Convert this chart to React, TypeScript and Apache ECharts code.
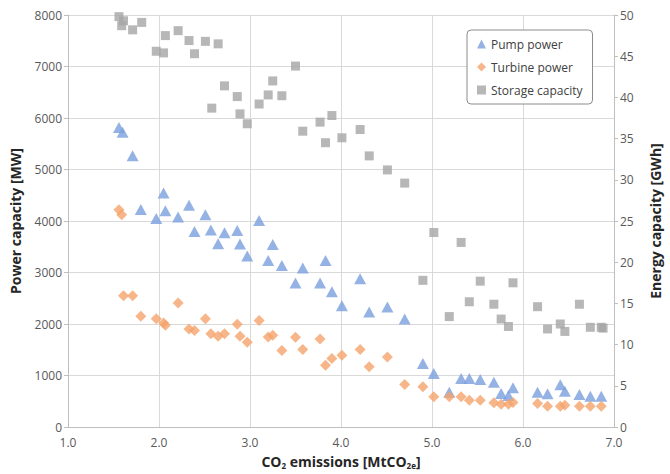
import React, { useEffect, useRef } from "react";
import * as echarts from "echarts";

const pumpX = [1.56, 1.6, 1.71, 1.8, 1.97, 2.05, 2.07, 2.21, 2.33, 2.39, 2.51, 2.57, 2.65, 2.72, 2.86, 2.89, 2.97, 3.1, 3.2, 3.25, 3.35, 3.5, 3.58, 3.77, 3.83, 3.9, 4.01, 4.21, 4.31, 4.51, 4.7, 4.9, 5.02, 5.19, 5.32, 5.41, 5.53, 5.68, 5.76, 5.84, 5.89, 6.16, 6.27, 6.41, 6.46, 6.62, 6.74, 6.86];
const pumpY = [5815, 5725, 5266, 4225, 4050, 4542, 4200, 4080, 4305, 3798, 4121, 3824, 3559, 3772, 3817, 3553, 3320, 4010, 3235, 3545, 3138, 2797, 3087, 2797, 3235, 2628, 2356, 2880, 2234, 2331, 2098, 1231, 1038, 675, 941, 941, 921, 869, 650, 611, 760, 675, 644, 818, 694, 630, 597, 597];

const turbineX = [1.56, 1.59, 1.61, 1.71, 1.8, 1.97, 2.05, 2.07, 2.21, 2.33, 2.39, 2.51, 2.57, 2.65, 2.72, 2.86, 2.89, 2.97, 3.1, 3.2, 3.25, 3.35, 3.5, 3.58, 3.77, 3.83, 3.9, 4.01, 4.21, 4.31, 4.51, 4.7, 4.9, 5.02, 5.19, 5.32, 5.41, 5.53, 5.68, 5.76, 5.84, 5.89, 6.16, 6.27, 6.41, 6.46, 6.62, 6.74, 6.86];
const turbineY = [4218, 4121, 2550, 2550, 2149, 2104, 2021, 1974, 2409, 1904, 1872, 2104, 1813, 1761, 1813, 1994, 1761, 1645, 2066, 1749, 1780, 1484, 1742, 1503, 1711, 1199, 1329, 1393, 1503, 1168, 1361, 824, 780, 586, 586, 586, 520, 520, 469, 442, 442, 475, 456, 404, 404, 423, 404, 404, 404];

const storageX = [1.56, 1.59, 1.61, 1.71, 1.81, 1.97, 2.05, 2.07, 2.21, 2.33, 2.39, 2.51, 2.65, 2.58, 2.72, 2.86, 2.89, 2.97, 3.1, 3.2, 3.25, 3.35, 3.5, 3.58, 3.77, 3.83, 3.9, 4.01, 4.21, 4.31, 4.51, 4.7, 5.02, 5.32, 4.9, 5.53, 5.41, 5.19, 5.68, 5.76, 5.84, 5.89, 6.16, 6.27, 6.41, 6.46, 6.62, 6.74, 6.86, 6.88];
const storageY = [49.8, 48.7, 49.3, 48.2, 49.1, 45.6, 45.4, 47.5, 48.1, 46.9, 45.3, 46.8, 46.5, 38.7, 41.4, 40.1, 38.0, 36.8, 39.2, 40.3, 42.0, 40.2, 43.8, 35.9, 37.0, 34.5, 37.8, 35.1, 36.1, 32.9, 31.2, 29.6, 23.6, 22.4, 17.8, 17.7, 15.2, 13.4, 14.9, 13.1, 12.2, 17.5, 14.6, 11.9, 12.5, 11.6, 14.9, 12.1, 12.1, 12.0];

const xTicks = ["1.0", "2.0", "3.0", "4.0", "5.0", "6.0", "7.0"];

const zip = (xs: number[], ys: number[]) => xs.map((x, i) => [x, ys[i]]);

const FONT = "'Open Sans', 'Noto Sans', sans-serif";
const TXT = "#595959";

export default function App() {
  const ref = useRef<HTMLDivElement>(null);
  useEffect(() => {
    const chart = echarts.init(ref.current!, null, { renderer: "svg" });
    chart.setOption({
      animation: false,
      textStyle: { fontFamily: FONT },
      grid: { left: 67, right: 43, top: 15, bottom: 47 },
      legend: {
        orient: "vertical",
        left: 467,
        top: 30,
        width: 126,
        padding: [8, 10, 8, 10],
        itemGap: 11,
        itemWidth: 9,
        itemHeight: 9,
        borderColor: "#8c8c8c",
        borderWidth: 1,
        borderRadius: 4,
        backgroundColor: "#fff",
        textStyle: { color: "#404040", fontSize: 12, fontFamily: FONT },
        data: [
          { name: "Pump power", icon: "triangle" },
          { name: "Turbine power", icon: "diamond" },
          { name: "Storage capacity", icon: "rect" },
        ],
      },
      xAxis: {
        type: "value",
        min: 1,
        max: 7,
        interval: 1,
        axisLine: { show: true, lineStyle: { color: "#bfbfbf" } },
        axisTick: { show: false },
        splitLine: { show: true, lineStyle: { color: "#d9d9d9" } },
        axisLabel: {
          color: TXT,
          fontSize: 12,
          margin: 9,
          formatter: (v: number) => xTicks[Math.round(v) - 1] ?? "",
        },
        name: "CO{s|2} emissions [MtCO{s|2e}]",
        nameLocation: "middle",
        nameGap: 26,
        nameTextStyle: {
          color: "#262626",
          fontSize: 14,
          fontWeight: "bold",
          fontFamily: FONT,
          rich: {
            s: { fontSize: 8, fontWeight: "bold", color: "#262626", verticalAlign: "bottom", padding: [8, 0, 0, 0], fontFamily: FONT },
          },
        },
      },
      yAxis: [
        {
          type: "value",
          min: 0,
          max: 8000,
          interval: 1000,
          axisLine: { show: true, lineStyle: { color: "#bfbfbf" } },
          axisTick: { show: true, length: 4, lineStyle: { color: "#bfbfbf" } },
          splitLine: { show: true, lineStyle: { color: "#d9d9d9" } },
          axisLabel: { color: TXT, fontSize: 12, margin: 6, formatter: (v: number) => String(v) },
          name: "Power capacity [MW]",
          nameLocation: "middle",
          nameGap: 46,
          nameTextStyle: { color: "#262626", fontSize: 14, fontWeight: "bold", fontFamily: FONT },
        },
        {
          type: "value",
          min: 0,
          max: 50,
          interval: 5,
          position: "right",
          axisLine: { show: true, lineStyle: { color: "#bfbfbf" } },
          axisTick: { show: true, length: 4, lineStyle: { color: "#bfbfbf" } },
          splitLine: { show: false },
          axisLabel: { color: TXT, fontSize: 12, margin: 6, formatter: (v: number) => String(v) },
          name: "Energy capacity [GWh]",
          nameLocation: "middle",
          nameGap: 34,
          nameRotate: 90,
          nameTextStyle: { color: "#262626", fontSize: 14, fontWeight: "bold", fontFamily: FONT },
        },
      ],
      series: [
        {
          name: "Pump power",
          type: "scatter",
          symbol: "triangle",
          symbolSize: [12, 11],
          itemStyle: { color: "#7b9fdd" },
          yAxisIndex: 0,
          data: zip(pumpX, pumpY),
        },
        {
          name: "Turbine power",
          type: "scatter",
          symbol: "diamond",
          symbolSize: 11,
          itemStyle: { color: "#f4a46b" },
          yAxisIndex: 0,
          data: zip(turbineX, turbineY),
        },
        {
          name: "Storage capacity",
          type: "scatter",
          symbol: "rect",
          symbolSize: 9,
          itemStyle: { color: "#a5a5a5" },
          yAxisIndex: 1,
          data: zip(storageX, storageY),
        },
      ],
    });
    return () => chart.dispose();
  }, []);
  return <div ref={ref} style={{ width: 670, height: 474, position: "absolute", left: 0, top: 0 }} />;
}
